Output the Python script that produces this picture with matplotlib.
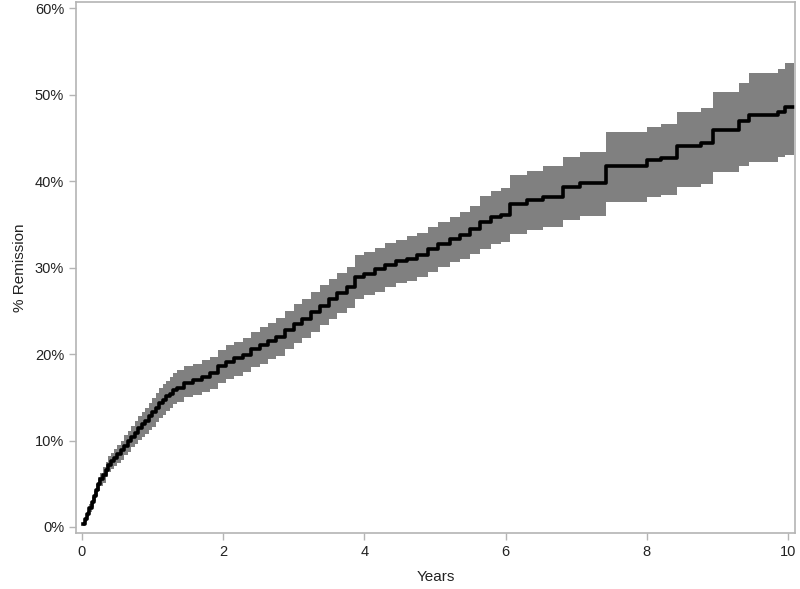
import numpy as np
import matplotlib.pyplot as plt

plt.rcParams['font.family'] = ['Liberation Sans', 'DejaVu Sans']

# cumulative remission (%), step changes at these times
years = [0.02, 0.05, 0.08, 0.11, 0.14, 0.17, 0.20, 0.23, 0.26, 0.30, 0.34, 0.38,
         0.42, 0.46, 0.50, 0.55, 0.60, 0.65, 0.70, 0.75, 0.80, 0.85, 0.90, 0.95,
         1.00, 1.05, 1.10, 1.15, 1.20, 1.25, 1.30, 1.35,
         1.45, 1.57, 1.70, 1.81,
         1.93, 2.04, 2.16, 2.28, 2.40, 2.52, 2.64, 2.75, 2.88, 3.00, 3.12, 3.25,
         3.38, 3.50, 3.62, 3.75, 3.87, 4.00, 4.15, 4.30, 4.45, 4.60, 4.75, 4.90,
         5.05, 5.22, 5.35, 5.50, 5.64, 5.80, 5.93, 6.07, 6.30, 6.53, 6.82, 7.06,
         7.42, 8.00, 8.20, 8.43, 8.76, 8.93, 9.30, 9.44, 9.85, 9.96]
remission = [0.3, 0.9, 1.5, 2.2, 2.9, 3.6, 4.3, 5.0, 5.5, 6.0, 6.6, 7.2,
             7.6, 8.0, 8.4, 8.9, 9.4, 9.9, 10.4, 10.9, 11.4, 11.9, 12.3, 12.8,
             13.3, 13.8, 14.3, 14.7, 15.1, 15.4, 15.8, 16.1,
             16.6, 17.0, 17.4, 17.8,
             18.6, 19.1, 19.5, 19.9, 20.6, 21.0, 21.5, 22.0, 22.8, 23.5, 24.1, 24.9,
             25.6, 26.4, 27.0, 27.7, 28.9, 29.3, 29.8, 30.3, 30.7, 31.0, 31.4, 32.1,
             32.7, 33.3, 33.8, 34.5, 35.3, 35.8, 36.1, 37.4, 37.8, 38.2, 39.3, 39.8,
             41.8, 42.4, 42.7, 44.0, 44.4, 45.9, 46.9, 47.6, 48.0, 48.6]
lower = [0.1, 0.6, 1.1, 1.7, 2.3, 3.0, 3.6, 4.2, 4.7, 5.1, 5.8, 6.4,
         6.7, 7.0, 7.4, 7.8, 8.3, 8.7, 9.2, 9.6, 10.1, 10.4, 10.8, 11.2,
         11.6, 12.1, 12.6, 13.0, 13.4, 13.8, 14.2, 14.5,
         15.0, 15.3, 15.6, 15.9,
         16.6, 17.1, 17.5, 17.9, 18.5, 18.9, 19.4, 19.8, 20.6, 21.3, 21.9, 22.6,
         23.4, 24.1, 24.7, 25.3, 26.4, 26.8, 27.2, 27.7, 28.2, 28.5, 28.9, 29.5,
         30.1, 30.6, 31.0, 31.6, 32.2, 32.7, 33.0, 33.9, 34.3, 34.7, 35.5, 36.0,
         37.6, 38.2, 38.4, 39.3, 39.7, 41.1, 41.7, 42.2, 42.8, 43.0]
upper = [0.5, 1.2, 1.9, 2.7, 3.5, 4.2, 5.0, 5.8, 6.3, 6.9, 7.5, 8.2,
         8.6, 9.0, 9.5, 10.0, 10.6, 11.1, 11.7, 12.2, 12.8, 13.3, 13.8, 14.3,
         14.9, 15.5, 16.1, 16.5, 16.9, 17.3, 17.8, 18.2,
         18.6, 18.9, 19.3, 19.7,
         20.5, 21.0, 21.4, 21.8, 22.6, 23.1, 23.6, 24.2, 25.0, 25.8, 26.4, 27.2,
         28.0, 28.7, 29.4, 30.1, 31.4, 31.8, 32.3, 32.8, 33.2, 33.6, 34.0, 34.7,
         35.3, 35.9, 36.4, 37.1, 38.3, 38.8, 39.2, 40.7, 41.2, 41.7, 42.8, 43.4,
         45.7, 46.3, 46.6, 48.0, 48.4, 50.3, 51.3, 52.5, 53.0, 53.6]
end_year = 10.08

# extend last step to end of follow-up
t = np.append(years, end_year)
est = np.append(remission, remission[-1])
lo = np.append(lower, lower[-1])
hi = np.append(upper, upper[-1])

fig = plt.figure(figsize=(8, 5.89), dpi=100)
ax = fig.add_axes([0.095, 0.095, 0.899, 0.9015])

ax.fill_between(t, lo, hi, step='post', color='#808080', linewidth=0)
ax.step(t, est, where='post', color='black', linewidth=2.6)

ax.set_xlim(-0.08, 10.1)
ax.set_ylim(-0.7, 60.7)
ax.set_xticks([0, 2, 4, 6, 8, 10])
ax.set_yticks([0, 10, 20, 30, 40, 50, 60])
ax.set_yticklabels([f'{v}%' for v in [0, 10, 20, 30, 40, 50, 60]])

for s in ax.spines.values():
    s.set_color('#b4b4b4')
    s.set_linewidth(1.2)
ax.tick_params(colors='#b4b4b4', labelcolor='#222222', labelsize=10.5, length=5, width=1)

ax.set_xlabel('Years', fontsize=11, color='#222222', labelpad=8)
ax.set_ylabel('% Remission', fontsize=11, color='#222222', labelpad=6)

fig.savefig('out.png', dpi=100)
